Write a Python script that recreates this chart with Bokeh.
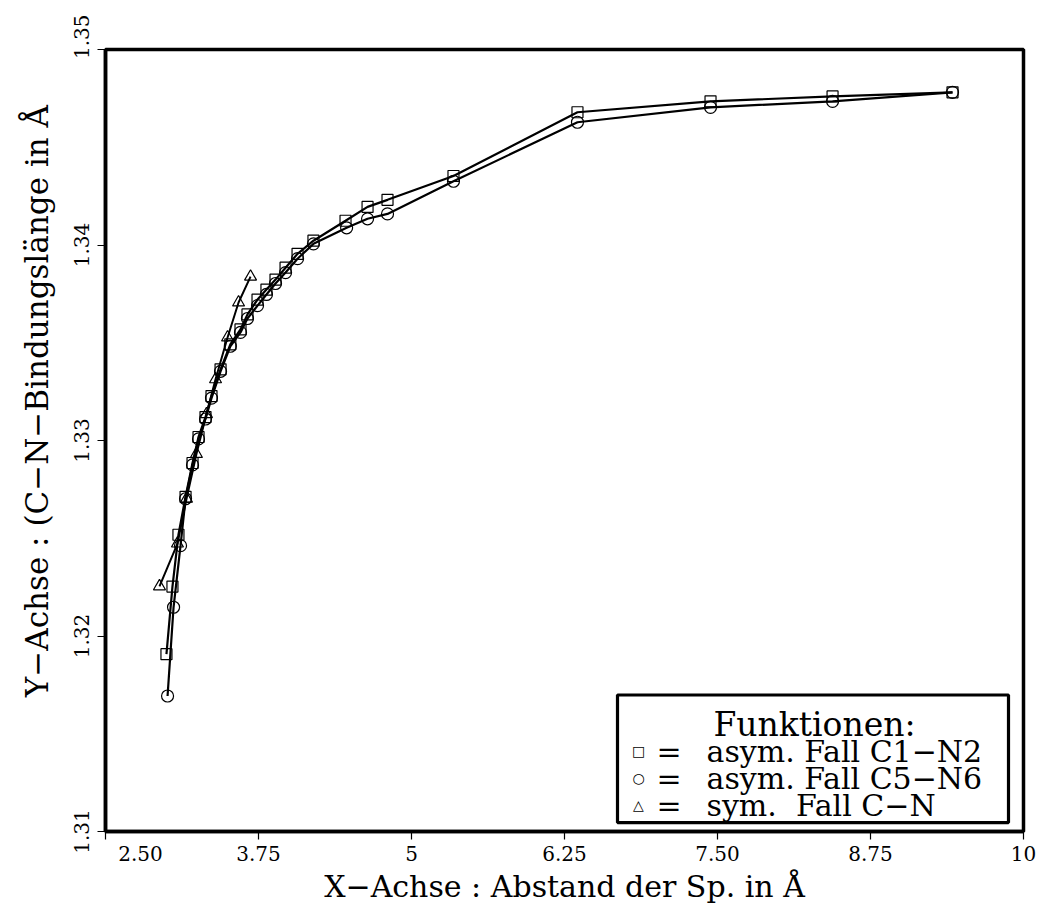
from bokeh.plotting import figure
from bokeh.models import Range1d, FixedTicker, Label, BoxAnnotation
from bokeh.embed import file_html
from bokeh.resources import INLINE

NB = "\u00a0"

# ---------------- data ----------------
sq_x = [2.998, 3.047, 3.096, 3.154, 3.211, 3.260, 3.317, 3.366, 3.440, 3.520, 3.603, 3.660,
        3.742, 3.815, 3.889, 3.971, 4.069, 4.199, 4.461, 4.641, 4.804, 5.343, 6.356, 7.443,
        8.440, 9.420]
sq_y = [1.31907, 1.32253, 1.32518, 1.32712, 1.32885, 1.33018, 1.33120, 1.33227, 1.33364,
        1.33492, 1.33568, 1.33645, 1.33721, 1.33772, 1.33823, 1.33884, 1.33955, 1.34022,
        1.34124, 1.34195, 1.34231, 1.34353, 1.34679, 1.34735, 1.34760, 1.34781]

ci_x = [3.007, 3.056, 3.113, 3.154, 3.211, 3.260, 3.317, 3.366, 3.440, 3.520, 3.603, 3.660,
        3.742, 3.815, 3.889, 3.971, 4.069, 4.199, 4.470, 4.641, 4.804, 5.343, 6.356, 7.443,
        8.440, 9.420]
ci_y = [1.31693, 1.32147, 1.32462, 1.32702, 1.32875, 1.33008, 1.33110, 1.33217, 1.33354,
        1.33482, 1.33553, 1.33624, 1.33690, 1.33747, 1.33803, 1.33859, 1.33930, 1.34006,
        1.34088, 1.34134, 1.34159, 1.34326, 1.34628, 1.34704, 1.34735, 1.34781]

tr_x = [2.941, 3.088, 3.162, 3.243, 3.325, 3.399, 3.497, 3.587, 3.685]
tr_y = [1.32254, 1.32473, 1.32702, 1.32931, 1.33135, 1.33313, 1.33527, 1.33706, 1.33838]

x_ticks = [2.5, 3.75, 5.0, 6.25, 7.5, 8.75, 10.0]
x_tick_labels = [NB * 11 + "2.50", "3.75", "5", "6.25", "7.50", "8.75", "10"]
y_ticks = [1.31, 1.32, 1.33, 1.34, 1.35]
y_tick_labels = ["1.31", "1.32", "1.33", "1.34", NB * 4 + "1.35"]

x_title = "X\u2212Achse : Abstand der Sp. in \u00c5"
y_title = NB * 8 + "Y\u2212Achse : (C\u2212N\u2212Bindungsl\u00e4nge in \u00c5"

legend_title = "Funktionen:"
legend_symbols = ["\u25a1", "\u25cb", "\u25b3"]
legend_labels = ["asym. Fall C1\u2212N2", "asym. Fall C5\u2212N6", "sym." + NB + NB + "Fall C\u2212N"]

# ---------------- figure ----------------
X0, X1, Y0, Y1 = 2.5, 10.0, 1.31, 1.35
p = figure(width=1040, height=906, x_range=Range1d(X0, X1), y_range=Range1d(Y0, Y1),
           output_backend="svg", toolbar_location=None,
           min_border_left=105, min_border_right=17, min_border_top=49, min_border_bottom=72)
p.background_fill_color = "white"
p.border_fill_color = "white"
p.grid.visible = False
p.outline_line_color = "black"
p.outline_line_width = 3.5

SERIF = "DejaVu Serif"

p.xaxis.ticker = FixedTicker(ticks=x_ticks)
p.xaxis.major_label_overrides = {t: l for t, l in zip(x_ticks, x_tick_labels)}
p.yaxis.ticker = FixedTicker(ticks=y_ticks)
p.yaxis.major_label_overrides = {t: l for t, l in zip(y_ticks, y_tick_labels)}
p.yaxis.major_label_orientation = "vertical"

for ax in (p.xaxis[0], p.yaxis[0]):
    ax.axis_line_color = "black"
    ax.axis_line_width = 3.5
    ax.major_tick_line_color = "black"
    ax.major_tick_line_width = 1.2
    ax.major_tick_out = 8
    ax.major_tick_in = 0
    ax.minor_tick_line_color = None
    ax.major_label_text_font = SERIF
    ax.major_label_text_font_size = "20px"
    ax.major_label_text_color = "black"
    ax.axis_label_text_font = SERIF
    ax.axis_label_text_font_style = "normal"
    ax.axis_label_text_color = "black"

p.xaxis.axis_label = x_title
p.yaxis.axis_label = y_title
p.xaxis.axis_label_text_font_size = "30px"
p.yaxis.axis_label_text_font_size = "31px"
p.xaxis.major_label_standoff = 2
p.xaxis.axis_label_standoff = 0
p.yaxis.major_label_standoff = 4
p.yaxis.axis_label_standoff = 12

# ---------------- series ----------------
p.line(sq_x, sq_y, line_color="black", line_width=2.2)
p.line(ci_x, ci_y, line_color="black", line_width=2.2)
p.line(tr_x, tr_y, line_color="black", line_width=2.0)

p.scatter(sq_x, sq_y, marker="square", size=11, fill_color=None, line_color="black", line_width=1.2)
p.scatter(ci_x, ci_y, marker="circle", size=12, fill_color=None, line_color="black", line_width=1.2)
p.scatter(tr_x, tr_y, marker="triangle", size=12, fill_color=None, line_color="black", line_width=1.2)

# ---------------- legend box (layout helpers: screen px -> data) ----------------
PX_L, PX_R, PY_T, PY_B = 105.0, 1023.0, 49.0, 834.0
def dx(px):
    return X0 + (px - PX_L) * (X1 - X0) / (PX_R - PX_L)
def dy(py):
    return Y0 + (PY_B - py) * (Y1 - Y0) / (PY_B - PY_T)

p.add_layout(BoxAnnotation(left=dx(617), right=dx(1008), top=dy(697), bottom=dy(825),
                           fill_color="white", fill_alpha=1.0,
                           line_color="black", line_alpha=1.0, line_width=3.2))

p.add_layout(Label(x=dx(814), y=dy(727), text=legend_title, text_font=SERIF,
                   text_font_size="33px", text_align="center", text_baseline="alphabetic",
                   text_color="black"))
row_base = [754, 781, 808]
for sym, lab, yb in zip(legend_symbols, legend_labels, row_base):
    p.add_layout(Label(x=dx(638), y=dy(yb - 1), text=sym, text_font="DejaVu Sans",
                       text_font_size="14px", text_align="center", text_baseline="alphabetic",
                       text_color="black"))
    p.add_layout(Label(x=dx(656), y=dy(yb), text="=", text_font=SERIF,
                       text_font_size="30px", text_align="left", text_baseline="alphabetic",
                       text_color="black"))
    p.add_layout(Label(x=dx(706), y=dy(yb), text=lab, text_font=SERIF,
                       text_font_size="30px", text_align="left", text_baseline="alphabetic",
                       text_color="black"))

open("out.html", "w").write(file_html(p, INLINE))
